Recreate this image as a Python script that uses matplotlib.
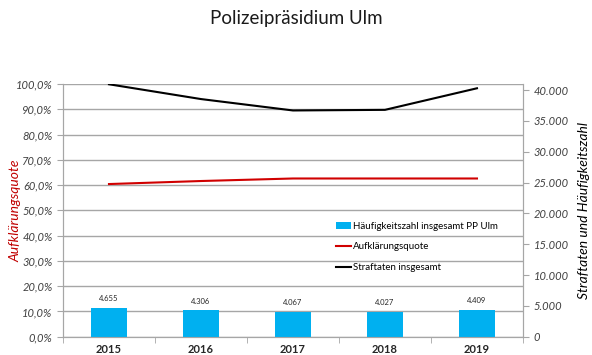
import matplotlib
matplotlib.use("Agg")
import matplotlib.pyplot as plt
import numpy as np
from matplotlib.ticker import FuncFormatter, FixedLocator

years = ["2015", "2016", "2017", "2018", "2019"]
haeufigkeitszahl = [4655, 4306, 4067, 4027, 4409]
aufklaerungsquote = [60.4, 61.6, 62.6, 62.6, 62.6]
straftaten = [40950, 38550, 36700, 36800, 40300]
bar_labels = ["4.655", "4.306", "4.067", "4.027", "4.409"]

plt.rcParams['font.family'] = ['Lato', 'DejaVu Sans']

fig = plt.figure(figsize=(5.92, 3.55), dpi=100)
ax = fig.add_axes([0.1064, 0.0515, 0.777, 0.712])
ax2 = ax.twinx()

x = np.arange(len(years))
grid_c = "#A6A6A6"

ax.set_ylim(0, 100)
ax.set_xlim(-0.5, len(years) - 0.5)
ax.yaxis.set_major_locator(FixedLocator(np.arange(0, 101, 10)))
ax.yaxis.set_major_formatter(FuncFormatter(lambda v, p: f"{v:.1f}%".replace(".", ",")))
ax.grid(axis="y", color=grid_c, lw=1)
ax.set_axisbelow(True)
ax.set_xticks(x)
ax.set_xticklabels(years, fontsize=8, fontweight="bold", color="#262626")
ax.set_xticks(np.arange(-0.5, len(years), 1), minor=True)
ax.tick_params(axis="x", which="major", length=0, pad=5)
ax.tick_params(axis="x", which="minor", length=4, color=grid_c, direction="out")
ax.tick_params(axis="y", length=4, color=grid_c, labelsize=8, labelcolor="#404040")
for lab in ax.get_yticklabels():
    lab.set_fontstyle("italic")
for s in ["top"]:
    ax.spines[s].set_visible(False)
    ax2.spines[s].set_visible(False)
for s in ["left", "bottom", "right"]:
    ax.spines[s].set_color(grid_c)
    ax2.spines[s].set_color(grid_c)

ax.set_ylabel("Aufklärungsquote", color="#C00000", fontsize=10, fontstyle="italic")
ax.yaxis.set_label_coords(-0.09, 0.5)

ax2.set_ylim(0, 41000)
ax2.yaxis.set_major_locator(FixedLocator(np.arange(0, 40001, 5000)))
ax2.yaxis.set_major_formatter(FuncFormatter(lambda v, p: "0" if v == 0 else f"{int(v):,}".replace(",", ".")))
ax2.tick_params(axis="y", length=4, color=grid_c, labelsize=8, labelcolor="#404040")
for lab in ax2.get_yticklabels():
    lab.set_fontstyle("italic")
ax2.set_ylabel("Straftaten und Häufigkeitszahl", fontsize=10, fontstyle="italic")
ax2.yaxis.set_label_coords(1.12, 0.5)

bars = ax2.bar(x, haeufigkeitszahl, width=0.4, color="#00B0F0", label="Häufigkeitszahl insgesamt PP Ulm", zorder=2)
for xi, v, t in zip(x, haeufigkeitszahl, bar_labels):
    ax2.text(xi, v + 900, t, ha="center", va="bottom", fontsize=5.5, color="#262626")

line_red, = ax2.plot(x, np.array(aufklaerungsquote) / 100 * 41000, color="#D00000", lw=1.5, label="Aufklärungsquote", zorder=3)
line_blk, = ax2.plot(x, straftaten, color="black", lw=1.5, label="Straftaten insgesamt", zorder=3)

leg = ax2.legend(handles=[bars, line_red, line_blk], loc="upper left", bbox_to_anchor=(0.575, 0.49),
                 frameon=False, fontsize=7, handlelength=1.5, handletextpad=0.2, labelspacing=1.2)

fig.text(0.5, 0.948, "Polizeipräsidium Ulm", ha="center", va="center", fontsize=13.5, color="#1a1a1a")

fig.savefig("out.png", dpi=100)
